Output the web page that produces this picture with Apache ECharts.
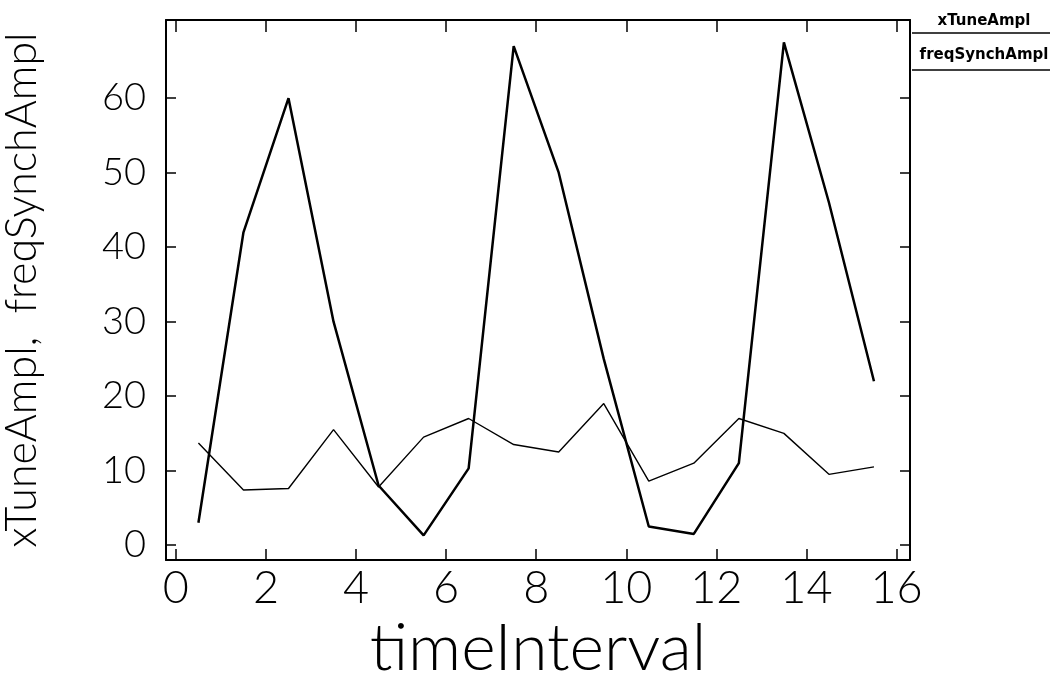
<!DOCTYPE html>
<html>
<head>
<meta charset="utf-8">
<script src="https://cdn.jsdelivr.net/npm/echarts@6/dist/echarts.min.js"></script>
<style>html,body{margin:0;padding:0;background:#fff}#c{width:1059px;height:675px}</style>
</head>
<body>
<div id="c"></div>
<script>
const xValues = [0.5,1.5,2.5,3.5,4.5,5.5,6.5,7.5,8.5,9.5,10.5,11.5,12.5,13.5,14.5,15.5];
const xTuneAmpl = [3,42,60,30,8,1.3,10.3,67,50,25,2.5,1.5,11,67.5,46,22];
const freqSynchAmpl = [13.7,7.4,7.6,15.5,7.8,14.5,17,13.5,12.5,19,8.6,11,17,15,9.5,10.5];
const xTicks = [0,2,4,6,8,10,12,14,16];
const yTicks = [0,10,20,30,40,50,60];
const seriesNames = ['xTuneAmpl','freqSynchAmpl'];
const xName = 'timeInterval';
const yName = 'xTuneAmpl,  freqSynchAmpl';

const FONT = 'Lato';
const chart = echarts.init(document.getElementById('c'));
const xr = {min:-0.22, max:16.3};
const yr = {min:-2, max:70.5};
function pair(a,b){return a.map((v,i)=>[v,b[i]]);}
const lineCol = {color:'#000',width:2};
const tickCol = {color:'#000',width:1.5};
chart.setOption({
  animation:false,
  backgroundColor:'#fff',
  grid:{left:166,right:149,top:20,bottom:115,containLabel:false,outerBoundsMode:'none'},
  xAxis:[
    {type:'value',position:'bottom',min:xr.min,max:xr.max,
     name:xName,nameLocation:'middle',nameGap:46,
     nameTextStyle:{fontFamily:FONT,fontWeight:300,fontSize:66,color:'#000'},
     axisLine:{onZero:false,lineStyle:lineCol},
     axisTick:{inside:true,length:11,customValues:xTicks,lineStyle:tickCol},
     axisLabel:{customValues:xTicks,margin:6,fontFamily:FONT,fontWeight:300,fontSize:45,color:'#000'},
     splitLine:{show:false}},
    {type:'value',position:'top',min:xr.min,max:xr.max,
     axisLine:{onZero:false,lineStyle:lineCol},
     axisTick:{inside:true,length:12,customValues:xTicks,lineStyle:tickCol},
     axisLabel:{show:false},splitLine:{show:false}}
  ],
  yAxis:[
    {type:'value',position:'left',min:yr.min,max:yr.max,
     name:yName,nameLocation:'middle',nameGap:122,
     nameTextStyle:{fontFamily:FONT,fontWeight:300,fontSize:43,color:'#000'},
     axisLine:{onZero:false,lineStyle:lineCol},
     axisTick:{inside:true,length:10,customValues:yTicks,lineStyle:tickCol},
     axisLabel:{customValues:yTicks,margin:20,fontFamily:FONT,fontWeight:300,fontSize:38,color:'#000'},
     splitLine:{show:false}},
    {type:'value',position:'right',min:yr.min,max:yr.max,
     axisLine:{onZero:false,lineStyle:lineCol},
     axisTick:{inside:true,length:10,customValues:yTicks,lineStyle:tickCol},
     axisLabel:{show:false},splitLine:{show:false}}
  ],
  graphic:[
    {type:'text',x:984,y:21,style:{text:seriesNames[0],fontFamily:'DejaVu Sans',fontWeight:'bold',fontSize:15,fill:'#000',align:'center',verticalAlign:'middle'}},
    {type:'line',shape:{x1:912,y1:33,x2:1050,y2:33},style:{stroke:'#000',lineWidth:1.5}},
    {type:'text',x:984,y:55,style:{text:seriesNames[1],fontFamily:'DejaVu Sans',fontWeight:'bold',fontSize:15,fill:'#000',align:'center',verticalAlign:'middle'}},
    {type:'line',shape:{x1:912,y1:70,x2:1050,y2:70},style:{stroke:'#000',lineWidth:1.5}}
  ],
  series:[
    {name:seriesNames[0],type:'line',xAxisIndex:0,yAxisIndex:0,data:pair(xValues,xTuneAmpl),showSymbol:false,
     lineStyle:{color:'#000',width:2.5},itemStyle:{color:'#000'}},
    {name:seriesNames[1],type:'line',xAxisIndex:0,yAxisIndex:0,data:pair(xValues,freqSynchAmpl),showSymbol:false,
     lineStyle:{color:'#000',width:1.4},itemStyle:{color:'#000'}}
  ]
});
</script>
</body>
</html>
